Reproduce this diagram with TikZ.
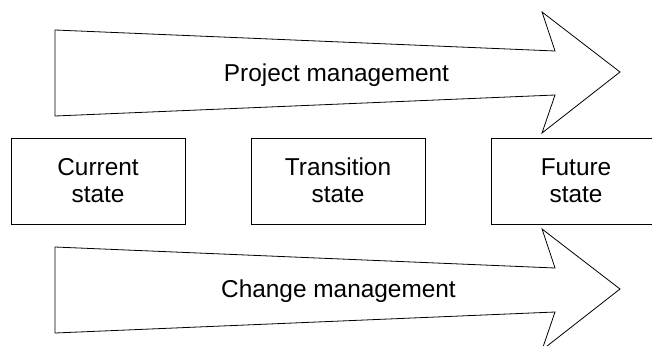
\documentclass[tikz,border=0pt]{standalone}
\usepackage{fontspec}
\setmainfont{Liberation Sans}
\begin{document}
\begin{tikzpicture}[x=1pt,y=-1pt,
  stateBox/.style={draw=black,line width=0.8pt,fill=white},
  bigArrow/.style={draw=black,line width=0.8pt,fill=white,line join=miter},
  lbl/.style={font=\fontsize{24.4}{27}\selectfont,align=center,inner sep=0pt}]
\useasboundingbox (0,0) rectangle (652,345);
\begin{scope}
\clip (0,0) rectangle (652,345);
% top arrow
\draw[bigArrow] (55,30) -- (555,51) -- (542,12) -- (620,72) -- (542,133) -- (555,95) -- (55,116) -- cycle;
\node[lbl,anchor=base] (pm) at (336.5,81.5) {Project management};
% boxes
\draw[stateBox] (11,138) rectangle (185,224);
\node[lbl] (cs) at (98,180.2) {Current\\state};
\draw[stateBox] (251,138) rectangle (425,224);
\node[lbl] (ts) at (338,180.2) {Transition\\state};
\draw[stateBox] (491,138) rectangle (660,224);
\node[lbl] (fs) at (576,180.8) {Future\\state};
% bottom arrow
\draw[bigArrow] (55,247) -- (555,268) -- (542,229) -- (620,289) -- (542,350) -- (555,312) -- (55,333) -- cycle;
\node[lbl,anchor=base] (cm) at (338.5,297.5) {Change management};
\end{scope}
\end{tikzpicture}
\end{document}
